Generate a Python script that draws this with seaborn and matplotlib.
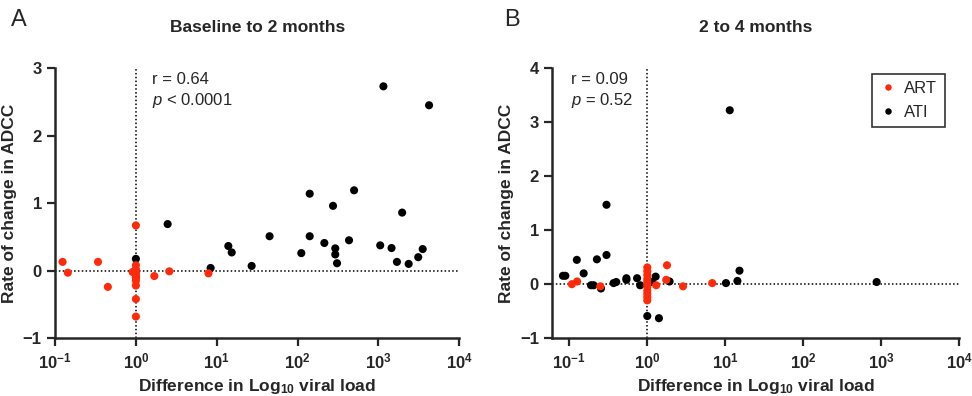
import numpy as np
import pandas as pd
import matplotlib
matplotlib.use("Agg")
import matplotlib.pyplot as plt
import matplotlib.ticker as mticker
import seaborn as sns

# ---- Data ----
# Panel A: baseline to 2 months
art1_x = [0.124, 0.144, 0.34, 0.45, 0.91, 1, 1, 1, 1, 1, 1, 1, 1, 1, 1, 1.69, 2.59, 7.9]
art1_y = [0.13, -0.03, 0.13, -0.24, -0.02, 0.67, 0.08, 0.02, -0.02, -0.05, -0.1, -0.15, -0.22, -0.42, -0.68,
          -0.08, -0.01, -0.04]
ati1_x = [1, 1, 2.47, 8.4, 13.9, 15.3, 27, 45, 111, 141, 141, 214, 274, 292, 292, 307, 432, 499,
          1050, 1150, 1450, 1690, 1960, 2360, 3100, 3520, 4220]
ati1_y = [0.175, -0.1, 0.69, 0.04, 0.365, 0.27, 0.07, 0.51, 0.26, 1.14, 0.51, 0.41, 0.96, 0.33, 0.24, 0.11,
          0.45, 1.19, 0.375, 2.73, 0.335, 0.13, 0.86, 0.1, 0.2, 0.32, 2.45]

# Panel B: 2 to 4 months
art2_x = [0.108, 0.126, 0.25, 1, 1, 1, 1, 1, 1, 1, 1, 1, 1, 1, 1.3, 1.79, 1.75, 2.87, 6.8]
art2_y = [0.0, 0.05, -0.04, 0.31, 0.24, 0.17, 0.1, 0.05, 0.0, -0.05, -0.12, -0.18, -0.24, -0.3,
          -0.02, 0.35, 0.08, -0.04, 0.02]
ati2_x = [11.4, 0.30, 0.30, 0.125, 0.226, 0.153, 0.083, 0.089, 0.19, 0.205, 0.255, 0.37, 0.40, 0.54, 0.54,
          0.74, 0.81, 1.28, 1.15, 1.93, 1.0, 1.41, 10.2, 14.3, 15.2, 870]
ati2_y = [3.22, 1.47, 0.54, 0.45, 0.46, 0.2, 0.155, 0.155, -0.02, -0.02, -0.08, 0.02, 0.04, 0.11, 0.08,
          0.11, -0.02, 0.14, 0.04, 0.05, -0.59, -0.63, 0.02, 0.06, 0.25, 0.04]

titles = ["Baseline to 2 months", "2 to 4 months"]
letters = ["A", "B"]
stats = [["r = 0.64", "$p$ < 0.0001"], ["r = 0.09", "$p$ = 0.52"]]
yticks = [[-1, 0, 1, 2, 3], [-1, 0, 1, 2, 3, 4]]
xticks = [0.1, 1, 10, 100, 1000, 10000]
xmins = [0.1, 10 ** -1.22]


def make_df(ati_x, ati_y, art_x, art_y):
    # ATI first so ART points sit on top
    a = pd.DataFrame({"x": ati_x, "y": ati_y, "group": "ATI"})
    b = pd.DataFrame({"x": art_x, "y": art_y, "group": "ART"})
    return pd.concat([a, b], ignore_index=True)


dfs = [make_df(ati1_x, ati1_y, art1_x, art1_y), make_df(ati2_x, ati2_y, art2_x, art2_y)]

sns.set_style("ticks")
plt.rcParams["font.family"] = ["Liberation Sans", "DejaVu Sans"]
plt.rcParams["mathtext.fontset"] = "custom"
plt.rcParams["mathtext.rm"] = "Liberation Sans"
plt.rcParams["mathtext.it"] = "Liberation Sans:italic"
plt.rcParams["mathtext.bf"] = "Liberation Sans:bold"

palette = {"ART": "#FF2A0A", "ATI": "black"}

fig = plt.figure(figsize=(9.72, 3.96), dpi=100)
axes = [fig.add_axes([0.0566, 0.146, 0.416, 0.682]),
        fig.add_axes([0.568, 0.146, 0.419, 0.682])]

for i, ax in enumerate(axes):
    ax.axvline(1, color="black", ls=(0, (1, 1.5)), lw=1.1, zorder=1)
    ax.axhline(0, color="black", ls=(0, (1, 1.5)), lw=1.1, zorder=1)
    sns.scatterplot(data=dfs[i], x="x", y="y", hue="group", hue_order=["ART", "ATI"],
                    palette=palette, s=34, edgecolor="none", ax=ax, legend=(i == 1), zorder=3)
    ax.set_xscale("log")
    ax.set_xlim(xmins[i], 10000)
    ax.set_ylim(yticks[i][0], yticks[i][-1])
    ax.set_xticks(xticks)
    ax.xaxis.set_minor_locator(mticker.NullLocator())
    ax.xaxis.set_major_formatter(mticker.FuncFormatter(
        lambda v, pos: r"$\mathbf{10^{%d}}$" % round(np.log10(v))))
    ax.set_yticks(yticks[i])
    ax.tick_params(direction="out", length=6, width=1.6, labelsize=12)
    for lab in ax.get_yticklabels():
        lab.set_fontweight("bold")
    sns.despine(ax=ax)
    for sp in ["left", "bottom"]:
        ax.spines[sp].set_linewidth(1.8)
    ax.set_xlabel(r"Difference in Log$_\mathbf{10}$ viral load", fontsize=12.5, fontweight="bold", labelpad=4)
    ax.set_ylabel("Rate of change in ADCC", fontsize=12.5, fontweight="bold", labelpad=4)
    ax.set_title(titles[i], fontsize=12.5, fontweight="bold", pad=26)

axes[0].text(0.24, 0.985, stats[0][0] + "\n" + stats[0][1], transform=axes[0].transAxes,
             ha="left", va="top", fontsize=12, linespacing=1.25)
axes[1].text(0.047, 0.985, stats[1][0] + "\n" + stats[1][1], transform=axes[1].transAxes,
             ha="left", va="top", fontsize=12, linespacing=1.25)

leg = axes[1].legend(loc="upper right", bbox_to_anchor=(0.985, 1.01), frameon=True, fancybox=False,
                     edgecolor="black", fontsize=12, handletextpad=0.5, handlelength=1.0,
                     markerscale=0.8, borderpad=0.45)
leg.get_frame().set_linewidth(1.2)

fig.text(0.019, 0.95, letters[0], fontsize=17, ha="center", va="center")
fig.text(0.527, 0.95, letters[1], fontsize=17, ha="center", va="center")

fig.savefig("out.png", dpi=100)
